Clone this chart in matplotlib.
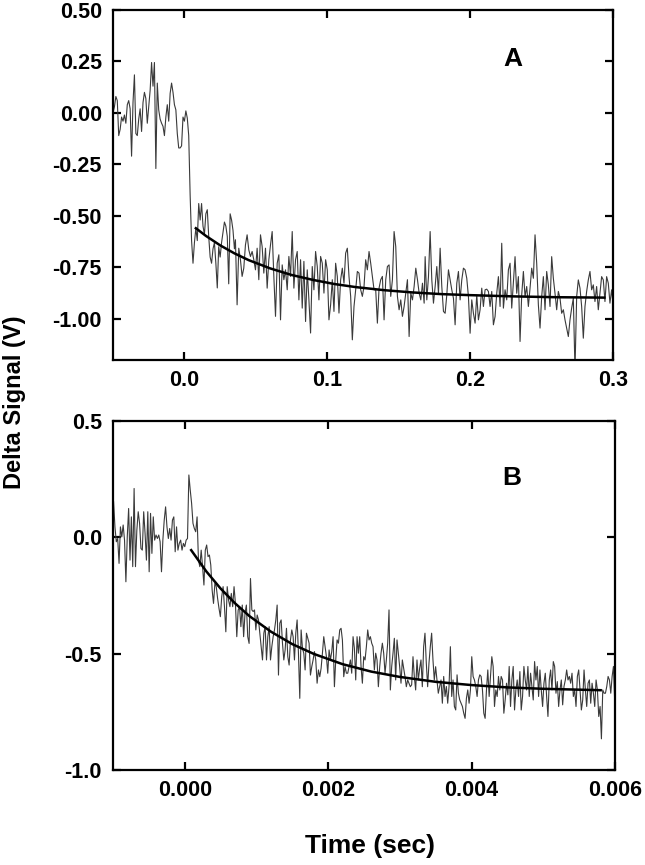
import numpy as np
import matplotlib
matplotlib.use('Agg')
import matplotlib.pyplot as plt

plt.rcParams['font.family'] = ['Liberation Sans', 'DejaVu Sans']
plt.rcParams['font.weight'] = 'bold'

# ---- panel A : trace in pieces (sec, V) ----
a_seg_times = [(-0.050, 0.006), (0.007, 0.035), (0.0357, 0.1678), (0.1685, 0.3002)]
a_pre = [0.00, 0.03, 0.08, 0.06, -0.11, -0.08, -0.02, -0.04, -0.01, -0.05,
         0.04, 0.06, 0.02, -0.21, 0.05, 0.185, -0.10, -0.11, -0.03, 0.02,
         -0.09, 0.05, 0.10, 0.07, -0.05, 0.03, 0.11, 0.245, 0.13, 0.245,
         -0.27, 0.145, 0.015, -0.03, -0.05, -0.065, -0.11, -0.02, 0.04, -0.04,
         0.095, 0.145, 0.10, 0.04, 0.015, -0.10, -0.17, -0.17, -0.16, -0.02,
         -0.04, 0.01, -0.025, -0.11, -0.40, -0.62, -0.73]
a_early = [-0.63, -0.56, -0.62, -0.44, -0.52, -0.44, -0.55, -0.59, -0.49, -0.47,
           -0.60, -0.70, -0.73, -0.66, -0.63, -0.73, -0.85, -0.65, -0.70, -0.63,
           -0.58, -0.53, -0.55, -0.60, -0.83, -0.49, -0.52, -0.57, -0.66]
a_mid = [-0.616, -0.932, -0.657, -0.713, -0.794, -0.754, -0.641, -0.592, -0.665, -0.697,
         -0.673, -0.713, -0.762, -0.657, -0.810, -0.592, -0.649, -0.778, -0.657, -0.851,
         -0.713, -0.641, -0.576, -0.794, -0.988, -0.730, -0.689, -1.005, -0.738, -0.810,
         -0.762, -0.859, -0.697, -0.794, -0.576, -0.851, -0.713, -0.673, -0.908, -0.713,
         -0.948, -0.721, -1.013, -0.762, -0.908, -1.069, -0.746, -0.859, -0.673, -0.746,
         -0.908, -0.697, -0.730, -0.875, -0.713, -0.762, -1.005, -0.932, -0.810, -0.964,
         -0.730, -0.794, -0.972, -0.810, -0.754, -0.827, -0.681, -0.657, -0.794, -0.891,
         -1.102, -0.940, -0.859, -0.770, -0.778, -0.859, -0.891, -0.843, -0.713, -0.762,
         -0.673, -0.730, -0.794, -0.859, -0.859, -1.021, -0.851, -0.810, -0.794, -1.005,
         -0.810, -0.746, -0.738, -0.891, -0.810, -0.576, -0.649, -0.891, -0.956, -0.908,
         -0.988, -0.940, -0.875, -0.810, -1.086, -0.875, -0.908, -0.843, -0.754, -0.810,
         -0.875, -0.908, -0.827, -0.924]
a_late = [-0.698, -0.908, -0.795, -0.576, -0.811, -0.924, -0.843, -0.746, -0.876, -0.657,
          -0.843, -0.964, -0.973, -0.884, -0.762, -0.811, -0.859, -0.900, -1.029, -0.827,
          -0.770, -0.908, -0.811, -0.754, -0.762, -0.803, -0.892, -1.070, -0.908, -0.973,
          -1.021, -0.884, -1.005, -0.956, -0.851, -0.940, -0.859, -0.856, -0.867, -0.940,
          -0.867, -1.029, -0.989, -0.876, -0.795, -0.940, -0.633, -0.948, -0.859, -0.908,
          -0.762, -0.730, -0.948, -0.827, -0.698, -0.876, -0.795, -1.110, -0.884, -0.770,
          -0.892, -0.843, -0.940, -0.851, -0.754, -0.803, -0.592, -0.730, -0.932, -1.045,
          -0.892, -0.795, -0.956, -0.770, -0.835, -0.940, -0.698, -0.803, -0.876, -0.956,
          -0.867, -0.900, -0.973, -0.956, -1.005, -1.045, -1.086, -1.005, -0.948, -0.900,
          -1.25, -0.892, -0.811, -0.851, -0.940, -1.094, -0.940, -0.867, -0.811, -0.770,
          -0.859, -0.835, -0.916, -0.843, -0.956, -0.876, -0.795, -0.811, -0.916, -0.795,
          -0.827, -0.924, -0.859, -0.940]

# exponential fit for A
a_fit_t = [0.008, 0.015, 0.025, 0.035, 0.045, 0.060, 0.075, 0.090, 0.105, 0.120,
           0.140, 0.160, 0.180, 0.200, 0.230, 0.260, 0.294]
a_fit_v = [-0.560, -0.597, -0.643, -0.682, -0.715, -0.755, -0.787, -0.811, -0.831, -0.846,
           -0.861, -0.872, -0.880, -0.885, -0.891, -0.895, -0.897]

# ---- panel B ----
b_seg_times = [(-0.000992, 0.000917), (0.000936, 0.003536), (0.003574, 0.005997)]
b_first = [0.153, 0.045, -0.019, -0.005, -0.112, 0.045, 0.002, 0.053, -0.012, -0.191,
           0.002, 0.124, -0.098, 0.088, -0.126, 0.210, -0.126, 0.031, 0.110, 0.060,
           -0.048, -0.055, 0.110, 0.017, -0.098, 0.110, -0.148, 0.103, -0.069, 0.088,
           -0.012, 0.010, -0.005, 0.010, -0.019, -0.148, -0.012, 0.074, 0.131, 0.045,
           -0.005, 0.038, -0.012, 0.074, 0.088, -0.062, 0.045, -0.055, -0.026, -0.012,
           -0.055, -0.026, -0.040, -0.012, -0.005, 0.268, 0.203, 0.146, 0.060, 0.038,
           0.024, 0.088, -0.098, -0.126, -0.055, -0.126, -0.205, -0.055, -0.033, -0.083,
           -0.076, -0.119, -0.227, -0.284, -0.198, -0.212, -0.263, -0.305, -0.341, -0.255,
           -0.212, -0.298, -0.406, -0.212, -0.270, -0.298, -0.241, -0.298, -0.212, -0.284,
           -0.427, -0.313, -0.298, -0.384, -0.291, -0.427, -0.327, -0.291, -0.427, -0.456,
           -0.177]
b_second = [-0.312, -0.319, -0.312, -0.398, -0.334, -0.355, -0.412, -0.470, -0.527, -0.412,
            -0.384, -0.527, -0.427, -0.384, -0.527, -0.470, -0.427, -0.398, -0.355, -0.291,
            -0.592, -0.369, -0.355, -0.455, -0.527, -0.484, -0.391, -0.513, -0.549, -0.441,
            -0.398, -0.427, -0.527, -0.412, -0.355, -0.498, -0.692, -0.398, -0.477, -0.498,
            -0.570, -0.412, -0.434, -0.455, -0.592, -0.556, -0.527, -0.491, -0.527, -0.627,
            -0.570, -0.599, -0.563, -0.498, -0.427, -0.470, -0.513, -0.584, -0.484, -0.527,
            -0.491, -0.427, -0.642, -0.527, -0.441, -0.455, -0.398, -0.391, -0.441, -0.599,
            -0.556, -0.584, -0.584, -0.556, -0.527, -0.584, -0.427, -0.477, -0.613, -0.427,
            -0.498, -0.427, -0.556, -0.627, -0.513, -0.527, -0.470, -0.398, -0.441, -0.427,
            -0.455, -0.470, -0.570, -0.498, -0.527, -0.642, -0.556, -0.498, -0.455, -0.498,
            -0.584, -0.527, -0.455, -0.312, -0.656, -0.556, -0.498, -0.434, -0.613, -0.441,
            -0.498, -0.556, -0.627, -0.527, -0.563, -0.599, -0.642, -0.613, -0.627, -0.642,
            -0.634, -0.513, -0.599, -0.656, -0.527, -0.613, -0.563, -0.527, -0.642, -0.470,
            -0.412, -0.541, -0.642, -0.541, -0.470, -0.412, -0.527, -0.613, -0.556, -0.613,
            -0.670]
b_third = [-0.613, -0.713, -0.598, -0.684, -0.641, -0.713, -0.641, -0.470, -0.684, -0.613,
           -0.727, -0.742, -0.591, -0.670, -0.699, -0.713, -0.727, -0.756, -0.778, -0.692,
           -0.656, -0.713, -0.656, -0.513, -0.598, -0.613, -0.641, -0.684, -0.613, -0.591,
           -0.598, -0.656, -0.756, -0.778, -0.656, -0.570, -0.684, -0.598, -0.513, -0.555,
           -0.727, -0.656, -0.684, -0.598, -0.656, -0.598, -0.613, -0.756, -0.699, -0.627,
           -0.677, -0.555, -0.727, -0.613, -0.555, -0.742, -0.656, -0.613, -0.684, -0.577,
           -0.742, -0.684, -0.555, -0.613, -0.656, -0.555, -0.684, -0.584, -0.641, -0.699,
           -0.534, -0.613, -0.555, -0.684, -0.570, -0.656, -0.727, -0.627, -0.584, -0.684,
           -0.770, -0.613, -0.570, -0.656, -0.534, -0.555, -0.670, -0.620, -0.727, -0.656,
           -0.613, -0.720, -0.641, -0.613, -0.570, -0.613, -0.598, -0.627, -0.584, -0.684,
           -0.656, -0.727, -0.598, -0.570, -0.656, -0.742, -0.699, -0.570, -0.656, -0.727,
           -0.627, -0.613, -0.713, -0.627, -0.670, -0.727, -0.613, -0.656, -0.770, -0.727,
           -0.866, -0.656, -0.670, -0.670, -0.641, -0.598, -0.613, -0.670, -0.598, -0.555,
           -0.713]

b_fit_t = [0.00009, 0.0003, 0.0005, 0.0007, 0.0009, 0.0012, 0.0015, 0.0018, 0.0022,
           0.0026, 0.0030, 0.0035, 0.0040, 0.0045, 0.0050, 0.0058]
b_fit_v = [-0.055, -0.146, -0.220, -0.283, -0.338, -0.405, -0.459, -0.501, -0.545,
           -0.577, -0.600, -0.621, -0.635, -0.645, -0.651, -0.657]

a_yticks = [0.50, 0.25, 0.00, -0.25, -0.50, -0.75, -1.00]
a_xticks = [0.0, 0.1, 0.2, 0.3]
b_yticks = [0.5, 0.0, -0.5, -1.0]
b_xticks = [0.000, 0.002, 0.004, 0.006]


def join(segs, parts):
    t = np.concatenate([np.linspace(s, e, len(p)) for (s, e), p in zip(segs, parts)])
    v = np.concatenate([np.array(p) for p in parts])
    return t, v


def style(ax):
    for s in ax.spines.values():
        s.set_linewidth(1.6)
    ax.tick_params(direction='in', top=True, right=True, length=6, width=1.6,
                   labelsize=15.5)
    ax.tick_params(axis='y', pad=8)
    ax.tick_params(axis='x', pad=7)


fig = plt.figure(figsize=(6.45, 8.65), dpi=100)
axA = fig.add_axes([113/645, 1 - 360/865, 500/645, 350/865])
axB = fig.add_axes([113/645, 1 - 770/865, 502/645, 349/865])

ta, va = join(a_seg_times, [a_pre, a_early, a_mid, a_late])
axA.plot(ta, va, color='#3a3a3a', lw=0.8)
axA.plot(a_fit_t, a_fit_v, color='black', lw=1.8)
axA.set_xlim(-0.05, 0.3)
axA.set_ylim(-1.2, 0.5)
axA.set_xticks(a_xticks)
axA.set_xticklabels([f'{x:.1f}' for x in a_xticks])
axA.set_yticks(a_yticks)
axA.set_yticklabels([f'{y:.2f}' for y in a_yticks])
style(axA)
axA.text(0.799, 0.861, 'A', transform=axA.transAxes, fontsize=19,
         fontweight='bold', ha='center', va='center')

tb, vb = join(b_seg_times, [b_first, b_second, b_third])
axB.plot(tb, vb, color='#3a3a3a', lw=0.8)
axB.plot(b_fit_t, b_fit_v, color='black', lw=1.8)
axB.set_xlim(-0.001, 0.006)
axB.set_ylim(-1.0, 0.5)
axB.set_xticks(b_xticks)
axB.set_xticklabels([f'{x:.3f}' for x in b_xticks])
axB.set_yticks(b_yticks)
axB.set_yticklabels([f'{y:.1f}' for y in b_yticks])
style(axB)
axB.text(0.795, 0.838, 'B', transform=axB.transAxes, fontsize=19,
         fontweight='bold', ha='center', va='center')

fig.text(15/645, 1 - 402/865, 'Delta Signal (V)', rotation=90, fontsize=17,
         fontweight='bold', ha='center', va='center')
fig.text(370/645, 1 - 846/865, 'Time (sec)', fontsize=19,
         fontweight='bold', ha='center', va='center')

fig.savefig('out.png', dpi=100)
